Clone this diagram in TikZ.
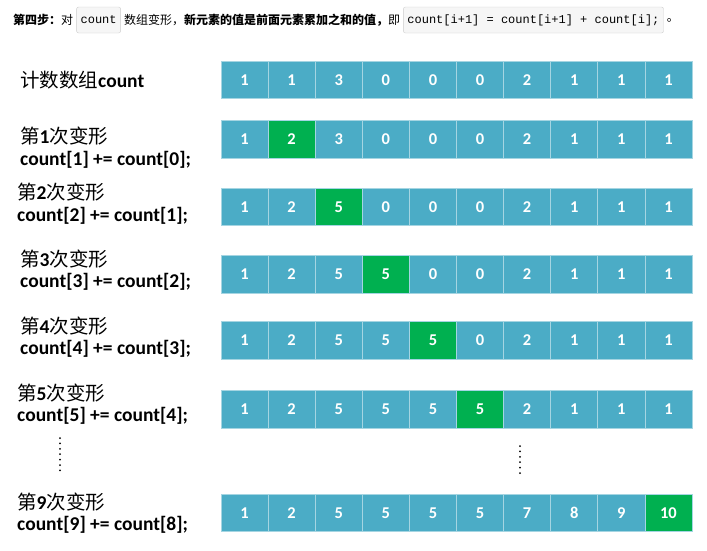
\documentclass[tikz,border=0pt]{standalone}
\usepackage{fontspec}
\setmainfont{Carlito}
\setmonofont{Liberation Mono}
\newfontfamily\cjk{Noto Sans CJK SC}
\usepackage{tikz}
\usetikzlibrary{positioning}
\definecolor{cellblue}{HTML}{4BACC6}
\definecolor{cellgreen}{HTML}{00B050}
\definecolor{codegray}{HTML}{F6F6F6}
\definecolor{codeline}{HTML}{CCCCCC}

\begin{document}
\begin{tikzpicture}
  [x=1pt,y=-1pt,every node/.style={inner sep=0pt}]

  \tikzstyle{cell}    = [minimum width=47.1pt,minimum height=37.5pt,fill=cellblue,
                         draw=cellblue!50!white,line width=0.8pt,text=white,
                         font=\fontsize{16.5}{18}\selectfont\bfseries]
  \tikzstyle{hotcell} = [cell,fill=cellgreen]
  \tikzstyle{hdr}     = [font=\cjk\fontsize{12}{14}\selectfont]
  \tikzstyle{codebox} = [font=\ttfamily\fontsize{12}{14}\selectfont,fill=codegray,
                         draw=codeline,rounded corners=2pt,inner xsep=4pt,
                         minimum height=26pt]
  \tikzstyle{lbl}     = [anchor=west,font=\fontsize{19.5}{22}\selectfont\bfseries]

  \useasboundingbox (0,0) rectangle (707,550);

  % header line
  \node[hdr,anchor=west] (h1) at (13,20) {{\bfseries 第四步：}对};
  \node[codebox, right=3pt of h1] (b1) {count};
  \node[hdr, right=3pt of b1] (h2) {数组变形，{\bfseries 新元素的值是前面元素累加之和的值，}即};
  \node[codebox, right=3pt of h2] (b2) {count[i+1] = count[i+1] + count[i];};
  \node[hdr, right=3pt of b2] (h3) {。};

  % labels
  \node[lbl] (l0)  at (20,80)  {{\cjk\mdseries 计数数组}count};
  \node[lbl] (l1a) at (20,136) {{\cjk\mdseries 第}1{\cjk\mdseries 次变形}};
  \node[lbl] (l1b) at (20,160) {count[1] += count[0];};
  \node[lbl] (l2a) at (17,192) {{\cjk\mdseries 第}2{\cjk\mdseries 次变形}};
  \node[lbl] (l2b) at (17,216) {count[2] += count[1];};
  \node[lbl] (l3a) at (20,259) {{\cjk\mdseries 第}3{\cjk\mdseries 次变形}};
  \node[lbl] (l3b) at (20,282) {count[3] += count[2];};
  \node[lbl] (l4a) at (20,326) {{\cjk\mdseries 第}4{\cjk\mdseries 次变形}};
  \node[lbl] (l4b) at (20,349) {count[4] += count[3];};
  \node[lbl] (l5a) at (17,393) {{\cjk\mdseries 第}5{\cjk\mdseries 次变形}};
  \node[lbl] (l5b) at (17,416) {count[5] += count[4];};
  \node[lbl] (l9a) at (17,502) {{\cjk\mdseries 第}9{\cjk\mdseries 次变形}};
  \node[lbl] (l9b) at (17,525) {count[9] += count[8];};

  % array rows
  \foreach \r/\yc/\g/\vals in {0/80/0/{1,1,3,0,0,0,2,1,1,1},
                               1/139.5/2/{1,2,3,0,0,0,2,1,1,1},
                               2/207/3/{1,2,5,0,0,0,2,1,1,1},
                               3/274.5/4/{1,2,5,5,0,0,2,1,1,1},
                               4/340.5/5/{1,2,5,5,5,0,2,1,1,1},
                               5/409.5/6/{1,2,5,5,5,5,2,1,1,1},
                               9/513/10/{1,2,5,5,5,5,7,8,9,10}}
    \foreach \v [count=\i] in \vals {
      \ifnum\i=\g \def\cellstyle{hotcell}\else\def\cellstyle{cell}\fi
      \node[\cellstyle] (c\r-\i) at (221+47.1*\i-23.55,\yc) {\v};
    };

  % dots
  \coordinate (d1a) at (60,438);
  \coordinate (d1b) at (60,471);
  \coordinate (d2a) at (520,446);
  \coordinate (d2b) at (520,478);
  \draw[line width=2pt,line cap=round,dash pattern=on 0pt off 5.4pt] (d1a) -- (d1b);
  \draw[line width=2pt,line cap=round,dash pattern=on 0pt off 5.4pt] (d2a) -- (d2b);
\end{tikzpicture}
\end{document}
